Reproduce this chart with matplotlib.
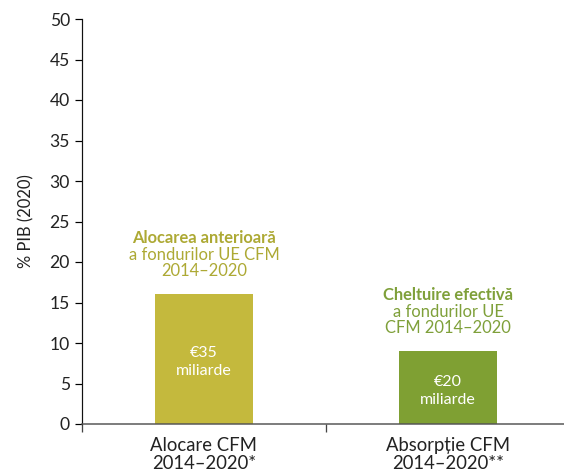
"""
Bar chart: EU MFF 2014-2020 funds allocation vs absorption (% of GDP 2020).
"""
import matplotlib

matplotlib.use("Agg")
import matplotlib.pyplot as plt
from matplotlib.ticker import FixedLocator, MultipleLocator

plt.rcParams["font.family"] = ["Lato", "DejaVu Sans"]

# data
categories = ["Alocare CFM\n2014–2020*", "Absorpție CFM\n2014–2020**"]
values = [16, 9]
amount_labels = [["€35", "miliarde"], ["€20", "miliarde"]]
note_titles = ["Alocarea anterioară", "Cheltuire efectivă"]
note_bodies = [["a fondurilor UE CFM", "2014–2020"], ["a fondurilor UE", "CFM 2014–2020"]]
bar_colors = ["#C4B93D", "#7FA033"]
note_colors = ["#ADA934", "#7FA03A"]

DPI = 72
LINE = 16.5  # px between lines of the notes
fig = plt.figure(figsize=(564 / DPI, 471 / DPI), dpi=DPI)
ax = fig.add_axes([82 / 564, 47 / 471, 488 / 564, 405 / 471])

x = list(range(len(categories)))
ax.bar(x, values, width=0.4, color=bar_colors, zorder=2)

for xi, val, amount, title, body, tc in zip(
    x, values, amount_labels, note_titles, note_bodies, note_colors
):
    # amount inside the bar, near its middle
    for i, line in enumerate(amount):
        ax.annotate(
            line,
            xy=(xi, val / 2),
            xytext=(0, 6 - 18 * i),
            textcoords="offset points",
            ha="center",
            va="center",
            color="white",
            fontsize=16,
        )
    # note above the bar, last line first
    lines = [(title, "bold")] + [(b, "normal") for b in body]
    for i, (line, weight) in enumerate(reversed(lines)):
        ax.annotate(
            line,
            xy=(xi, val),
            xytext=(0, 18 + LINE * i),
            textcoords="offset points",
            ha="center",
            va="baseline",
            color=tc,
            fontsize=16.5,
            fontweight=weight,
        )

ax.set_xlim(-0.5, 1.5)
ax.set_ylim(0, 50)
ax.yaxis.set_major_locator(MultipleLocator(5))

ax.set_xticks(x)
ax.set_xticklabels(categories, fontsize=18.5, linespacing=1.05, color="#222222")
ax.xaxis.set_minor_locator(FixedLocator([-0.5, 0.5, 1.5]))
ax.tick_params(axis="x", which="major", length=0, pad=13)
ax.tick_params(axis="x", which="minor", length=8, width=1.3, color="#444444")
ax.tick_params(axis="y", length=7, width=1.2, pad=5, labelsize=17.5, labelcolor="#222222")

ax.set_ylabel("% PIB (2020)", fontsize=16.5, color="#222222", labelpad=15)

for side in ["top", "right"]:
    ax.spines[side].set_visible(False)
ax.spines["left"].set_color("#111111")
ax.spines["left"].set_linewidth(1.2)
ax.spines["bottom"].set_color("#555555")
ax.spines["bottom"].set_linewidth(1.5)

fig.savefig("out.png", dpi=DPI)
